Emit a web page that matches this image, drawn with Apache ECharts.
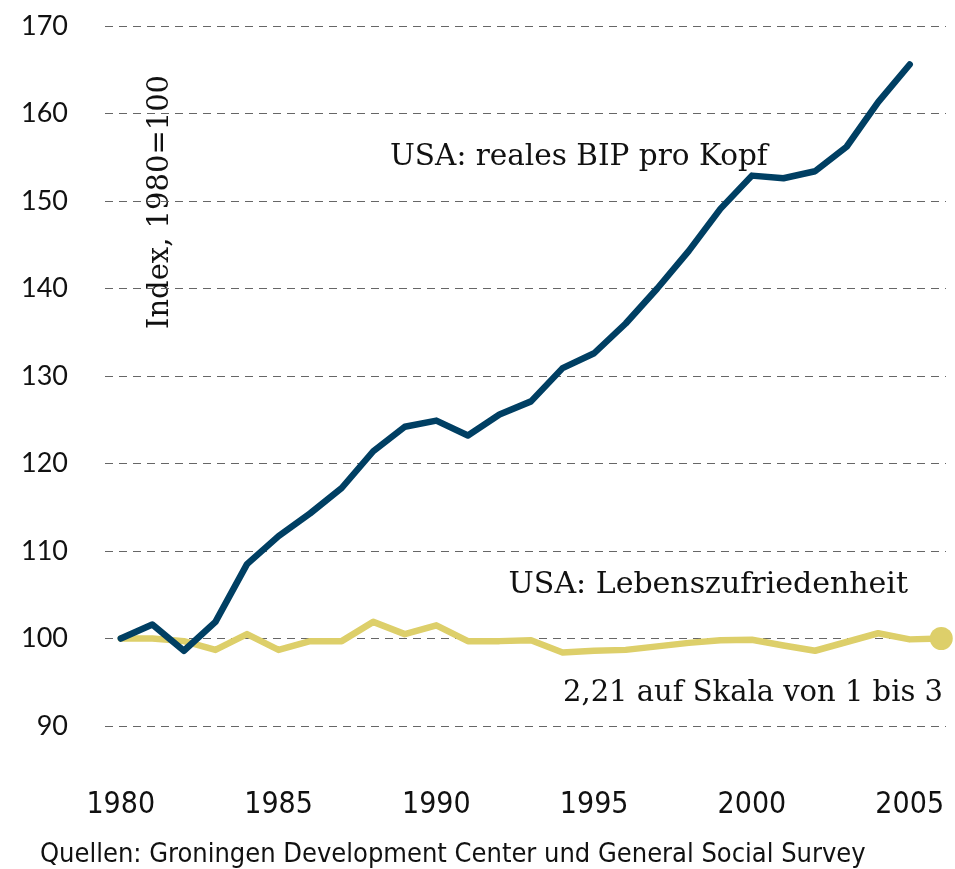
<!DOCTYPE html>
<html><head><meta charset="utf-8">
<script src="https://cdn.jsdelivr.net/npm/echarts@6/dist/echarts.min.js"></script>
<style>html,body{margin:0;padding:0;background:#fff}#c{width:955px;height:869px}</style>
</head><body><div id="c"></div>
<script>
const years = [1980,1981,1982,1983,1984,1985,1986,1987,1988,1989,1990,1991,1992,1993,1994,1995,1996,1997,1998,1999,2000,2001,2002,2003,2004,2005,2006];
const gdpIndex = [100,101.6,98.6,101.9,108.5,111.7,114.3,117.2,121.4,124.2,124.9,123.2,125.6,127.1,130.9,132.6,136.0,140.0,144.3,149.1,152.9,152.6,153.4,156.2,161.3,165.6];
const lifeSat = [100,100,99.7,98.7,100.5,98.7,99.7,99.7,101.9,100.5,101.5,99.7,99.7,99.8,98.4,98.6,98.7,99.1,99.5,99.8,99.85,99.2,98.6,99.6,100.6,99.9,100];
const xTicks = [1980,1985,1990,1995,2000,2005];
const yTicks = [90,100,110,120,130,140,150,160,170];
const labels = {
  gdp: 'USA: reales BIP pro Kopf',
  sat: 'USA: Lebenszufriedenheit',
  scale: '2,21 auf Skala von 1 bis 3',
  axis: 'Index, 1980=100',
  source: 'Quellen: Groningen Development Center und General Social Survey'
};
const blue = '#003f63', yellow = '#ddcf6a';
const serif = '"DejaVu Serif","Liberation Serif",serif';
const cond = '"DejaVu Sans Condensed","Liberation Sans Narrow","Open Sans",sans-serif';

const gdpData = gdpIndex.map((v,i)=>[years[i],v]);
const satData = lifeSat.map((v,i)=>[years[i],v]);

const chart = echarts.init(document.getElementById('c'));
chart.setOption({
  animation:false,
  grid:{left:105,right:9,top:26,bottom:143,containLabel:false},
  xAxis:{type:'value',min:1979.5,max:2006.15,
    axisLine:{show:false},axisTick:{show:false},splitLine:{show:false},
    axisLabel:{customValues:xTicks,margin:64,fontFamily:cond,fontSize:30,color:'#111',formatter:v=>String(v)}},
  yAxis:{type:'value',min:90,max:170,interval:10,
    axisLine:{show:false},axisTick:{show:false},
    splitLine:{show:true,lineStyle:{type:[8,6],color:'#666',width:1}},
    axisLabel:{margin:37,fontFamily:'Lato,"Noto Sans",sans-serif',fontSize:27,color:'#111',
      formatter:v=>yTicks.includes(v)?String(v):''}},
  graphic:[
    {type:'text',x:160,y:202,rotation:Math.PI/2,style:{text:labels.axis,font:'29px '+serif,fill:'#111',align:'center',verticalAlign:'middle'}},
    {type:'text',x:390,y:157,style:{text:labels.gdp,font:'29.5px '+serif,fill:'#111',verticalAlign:'middle'}},
    {type:'text',x:908,y:585,style:{text:labels.sat,font:'30px '+serif,fill:'#111',align:'right',verticalAlign:'middle'}},
    {type:'text',x:943,y:693,style:{text:labels.scale,font:'29px '+serif,fill:'#111',align:'right',verticalAlign:'middle'}},
    {type:'text',x:40,y:855,style:{text:labels.source,font:'27px '+cond,fill:'#111',verticalAlign:'middle'}}
  ],
  series:[
    {type:'line',data:gdpData,showSymbol:false,lineStyle:{color:blue,width:6.5,cap:'round',join:'round'},itemStyle:{color:blue},z:3},
    {type:'line',data:satData,symbol:'circle',symbolSize:(v,p)=>p.dataIndex===satData.length-1?23:0,
      lineStyle:{color:yellow,width:6.5,cap:'round',join:'round'},itemStyle:{color:yellow},z:2}
  ]
});
</script></body></html>
